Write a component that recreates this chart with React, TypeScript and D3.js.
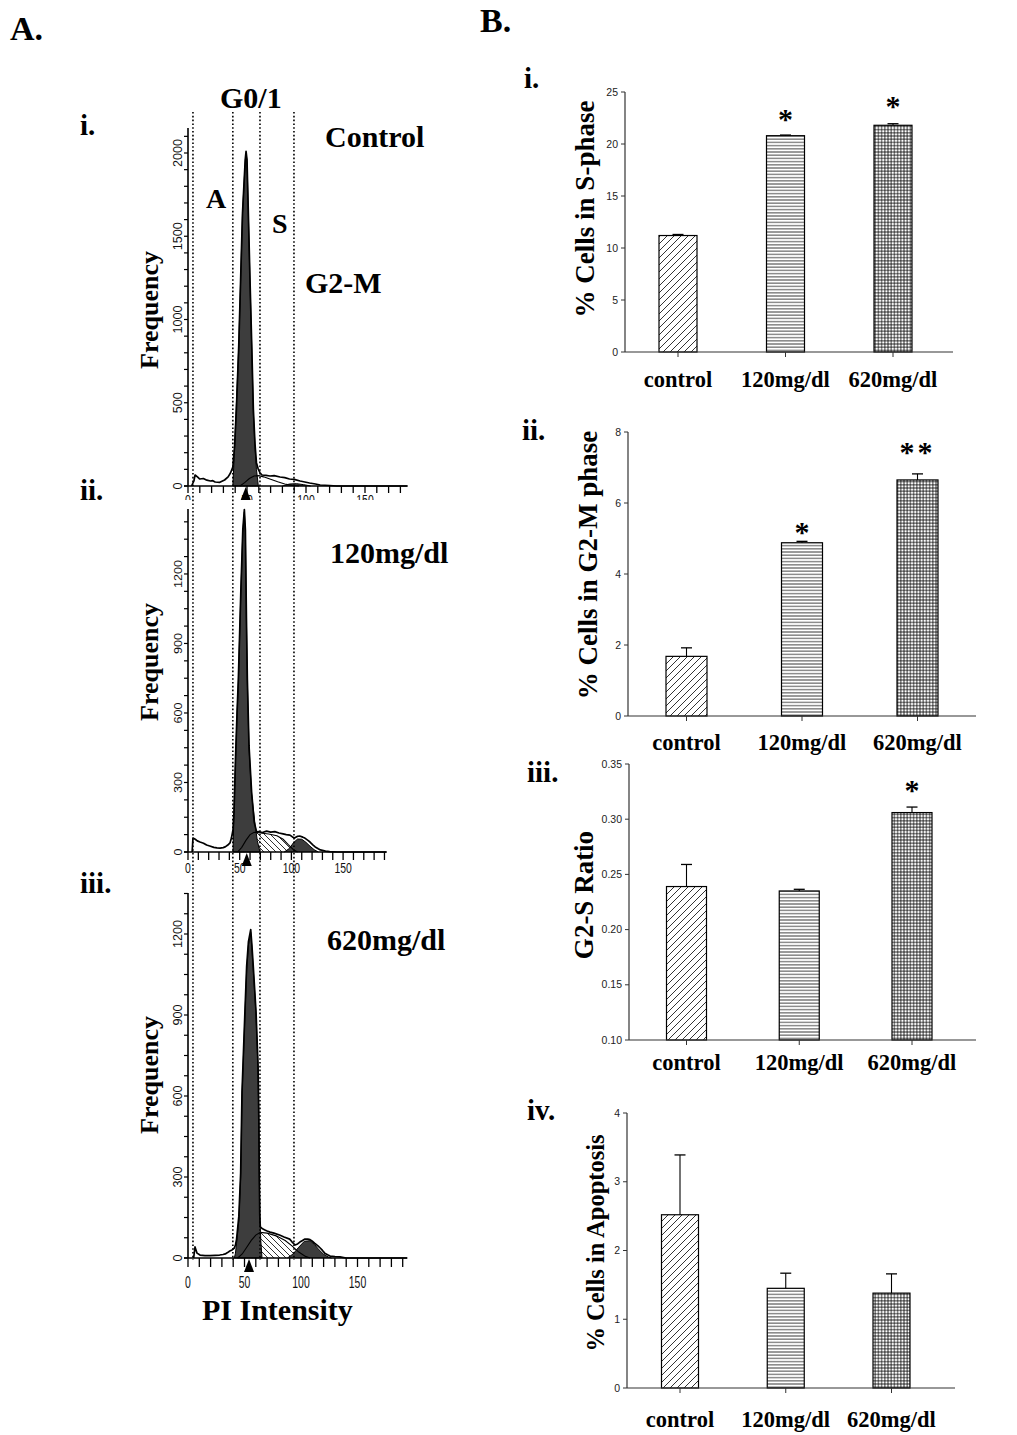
import React from "react";
import * as d3 from "d3";

// ---------------- Panel B data ----------------
const categories = ["control", "120mg/dl", "620mg/dl"];

const sPhaseMean = [11.2, 20.8, 21.8];
const sPhaseErr = [0.1, 0.06, 0.15];
const sPhaseStars = ["", "*", "*"];
const sPhaseStarLevel = [0, 22.9, 24.1];
const sPhaseTicks = [0, 5, 10, 15, 20, 25];

const g2mMean = [1.68, 4.88, 6.65];
const g2mErr = [0.24, 0.04, 0.17];
const g2mStars = ["", "*", "**"];
const g2mStarLevel = [0, 5.32, 7.58];
const g2mTicks = [0, 2, 4, 6, 8];

const ratioMean = [0.239, 0.235, 0.306];
const ratioErr = [0.02, 0.0015, 0.005];
const ratioStars = ["", "", "*"];
const ratioStarLevel = [0, 0, 0.331];
const ratioTicks = [0.1, 0.15, 0.2, 0.25, 0.3, 0.35];

const apoMean = [2.52, 1.45, 1.38];
const apoErr = [0.87, 0.22, 0.28];
const apoStars = ["", "", ""];
const apoStarLevel = [0, 0, 0];
const apoTicks = [0, 1, 2, 3, 4];

// ---------------- Panel A data (PI intensity, count) ----------------
const ctrlOutline = [[3,0],[5,30],[6,66],[8,55],[10,42],[13,45],[16,35],[19,30],[21,32],[23,24],[27,22],[31,36],[34,55],[36,78],[38,114],[39.5,240],[41,460],[43,840],[44.6,1240],[46.2,1640],[48.5,1960],[49.2,2010],[50,1960],[51.1,1650],[52.5,1250],[54,850],[55.4,460],[56.8,250],[58,140],[59.5,102],[61,80],[62.7,66],[66,64],[69.5,60],[73,62],[78,54],[82,50],[86,42],[90,40],[95,30],[99,24],[103,18],[108,12],[112,6],[120,3],[126,0],[186,0]];
const ctrlG01 = [[38,0],[39.5,234],[40.7,438],[43,834],[44.6,1237],[46.2,1640],[48.5,1950],[49.2,2000],[50,1950],[51.1,1640],[52.5,1237],[54,834],[55.4,438],[56.8,234],[58,100],[59.6,0]];
const ctrlS = [[44,0],[48,20],[52,45],[56,60],[60,62],[64,55],[70,40],[76,25],[82,12],[88,4],[94,0]];
const ctrlG2M = [[80,0],[86,12],[92,14],[98,8],[104,0]];

const low120Outline = [[4,0],[4.8,60],[7,55],[9,48],[11.6,43],[15,38],[18,30],[21,26],[25,20],[28,18],[31,17],[34,19],[36,22],[38.5,30],[40.6,39],[42,60],[43.5,95],[44.5,175],[46,410],[47.5,610],[48.7,745],[51,1110],[53,1390],[54.5,1478],[55.5,1390],[56.5,1010],[57.4,745],[59,460],[61.5,260],[64,130],[66.4,85],[68,88],[72,84],[76,90],[80,86],[84,88],[88,82],[92,78],[95,75],[98.6,73],[101,65],[103,60],[106,68],[108,69],[111,64],[113,60],[116,50],[118,43],[121,30],[123,22],[126,14],[128,9],[133,4],[137,2],[145,0],[192,0]];
const low120G01 = [[43.5,0],[44.5,168],[46,400],[47.5,600],[48.7,734],[51,1100],[53,1380],[54.5,1468],[55.5,1380],[56.5,1000],[57.4,734],[59,450],[61.5,250],[64.8,120],[67,50],[69.6,0]];
const low120S = [[48,0],[52,20],[56,50],[60,75],[64,85],[70,82],[78,78],[86,70],[92,55],[97,32],[102,10],[106,0]];
const low120G2M = [[93,0],[98,15],[102,40],[106,56],[110,55],[114,42],[118,25],[122,10],[126,0]];

const high620Outline = [[5,0],[6.2,41],[8,18],[10.6,11],[15,9],[19.5,9],[24,10],[28,11],[31,13],[33,15],[35,20],[37,26],[39,30],[41,37],[42,48],[43,70],[45,155],[46.6,315],[47.8,615],[50.4,915],[51.9,1080],[53.5,1172],[55.5,1216],[56.5,1162],[57.8,1078],[60.2,912],[62,712],[62.7,510],[63.1,310],[63.5,160],[64,115],[66,108],[68,104],[70,100],[72.6,96],[76,92],[81,85],[85,78],[90,70],[92,60],[94.7,48],[97,52],[99,59],[101,64],[103.5,70],[106,70],[108,68],[110,62],[112,55],[115,45],[117,37],[119,28],[121,18],[123.5,12],[125.7,7],[130,5],[134.5,4],[140,0],[194,0]];
const high620G01 = [[41,0],[42,18],[43,55],[45,140],[46.6,300],[47.8,600],[50.4,900],[51.9,1066],[53.5,1160],[55.5,1206],[56.5,1150],[57.8,1066],[60.2,900],[62,700],[62.7,500],[63.1,300],[63.7,140],[64.5,60],[65.5,0]];
const high620S = [[44,0],[48,15],[52,40],[56,65],[60,85],[64,95],[70,92],[78,82],[86,65],[92,45],[98,22],[104,6],[108,0]];
const high620G2M = [[88,0],[93,15],[98,40],[103,62],[108,64],[112,50],[116,30],[120,14],[124,4],[127,0]];

const peakArrows = [48.9, 56.8, 54];
const gateIntensities = [4.2, 38, 61, 89.8]; // in panel i intensity units
const histLabels = ["Control", "120mg/dl", "620mg/dl"];

const SERIF = '"Liberation Serif", "Times New Roman", Times, serif';
const SANS = '"Liberation Sans", Arial, Helvetica, sans-serif';

type Pt = number[];

const histPanels = [
  { outline: ctrlOutline, g01: ctrlG01, s: ctrlS, g2m: ctrlG2M, hatchS: false,
    x0: 188, ppu: 1.18, xMax: 186, y0: 486, ppc: 0.1665, yMax: 2150,
    yTicks: [0, 500, 1000, 1500, 2000], yMinor: 100,
    xLabFont: 15, xLabBase: 505, xTickLen: 7, clipY: 500, yLabFont: 13,
    label: histLabels[0], labelX: 325, labelY: 147, freqY: 310, roman: "i.", romanY: 135 },
  { outline: low120Outline, g01: low120G01, s: low120S, g2m: low120G2M, hatchS: true,
    x0: 188, ppu: 1.034, xMax: 192, y0: 852, ppc: 0.2317, yMax: 1480,
    yTicks: [0, 300, 600, 900, 1200], yMinor: 75,
    xLabFont: 14, xLabBase: 873, xTickLen: 8, clipY: 2000, yLabFont: 11,
    label: histLabels[1], labelX: 330, labelY: 563, freqY: 662, roman: "ii.", romanY: 500 },
  { outline: high620Outline, g01: high620G01, s: high620S, g2m: high620G2M, hatchS: true,
    x0: 188, ppu: 1.13, xMax: 194, y0: 1258, ppc: 0.27, yMax: 1352,
    yTicks: [0, 300, 600, 900, 1200], yMinor: 75,
    xLabFont: 16, xLabBase: 1288, xTickLen: 9, clipY: 2000, yLabFont: 13,
    label: histLabels[2], labelX: 327, labelY: 950, freqY: 1075, roman: "iii.", romanY: 893 },
];

function Histogram({ p, idx }: { p: any; idx: number }) {
  const x = d3.scaleLinear().domain([0, p.xMax]).range([p.x0, p.x0 + p.xMax * p.ppu]);
  const y = d3.scaleLinear().domain([0, p.yMax]).range([p.y0, p.y0 - p.yMax * p.ppc]);
  const area = d3.area<Pt>().x((d) => x(d[0])).y0(p.y0).y1((d) => y(d[1]));
  const line = d3.line<Pt>().x((d) => x(d[0])).y((d) => y(d[1]));
  const xTicks = d3.range(0, p.xMax + 0.01, 10);
  const xLabels = [0, 50, 100, 150];
  const yMinor = d3.range(0, p.yMax, p.yMinor);
  const ax = x(peakArrows[idx]);
  return (
    <g>
      <defs>
        <clipPath id={`hclip${idx}`}>
          <rect x={0} y={0} width={1017} height={p.clipY} />
        </clipPath>
      </defs>
      {p.hatchS ? (
        <path d={area(p.s) || ""} fill="url(#hatchS)" stroke="none" />
      ) : null}
      <path d={area(p.g01) || ""} fill="#3d3d3d" stroke="#000" strokeWidth={1} />
      <path d={area(p.g2m) || ""} fill="#3d3d3d" stroke="none" />
      <path d={line(p.s) || ""} fill="none" stroke="#000" strokeWidth={1.1} />
      <path d={line(p.g2m) || ""} fill="none" stroke="#000" strokeWidth={1} />
      <path d={line(p.outline) || ""} fill="none" stroke="#000" strokeWidth={1.7} strokeLinejoin="round" />
      {/* axes */}
      <line x1={p.x0 - 4} x2={x(p.xMax)} y1={p.y0} y2={p.y0} stroke="#000" strokeWidth={1.6} />
      <line x1={p.x0} x2={p.x0} y1={p.y0} y2={y(p.yMax)} stroke="#000" strokeWidth={1.6} />
      {xTicks.map((t) => (
        <line key={"xt" + t} x1={x(t)} x2={x(t)} y1={p.y0} y2={p.y0 + p.xTickLen} stroke="#000" strokeWidth={1.3} />
      ))}
      <g clipPath={`url(#hclip${idx})`}>
        {xLabels.map((t) => (
          <text key={"xl" + t} x={x(t)} y={p.xLabBase} fontFamily={SANS} fontSize={p.xLabFont}
            textAnchor="middle" textLength={String(t).length * 5.8} lengthAdjust="spacingAndGlyphs" fill="#111">
            {t}
          </text>
        ))}
      </g>
      {yMinor.map((t) => (
        <line key={"ym" + t} x1={p.x0 - 4} x2={p.x0} y1={y(t)} y2={y(t)} stroke="#000" strokeWidth={1.2} />
      ))}
      {p.yTicks.map((t: number) => (
        <text key={"yl" + t} transform={`translate(${p.x0 - 6},${y(t)}) rotate(-90)`} fontFamily={SANS}
          fontSize={p.yLabFont} textAnchor="middle" textLength={String(t).length * 7}
          lengthAdjust="spacingAndGlyphs" fill="#111">
          {t}
        </text>
      ))}
      {/* arrow under peak */}
      <path d={`M${ax},${p.y0 + 1} L${ax - 5},${p.y0 + 14} L${ax + 5},${p.y0 + 14} Z`} fill="#000" />
      {/* labels */}
      <text x={p.labelX} y={p.labelY} fontFamily={SERIF} fontWeight="bold" fontSize={30}>{p.label}</text>
      <text transform={`translate(158,${p.freqY}) rotate(-90)`} fontFamily={SERIF} fontWeight="bold"
        fontSize={26} textAnchor="middle">Frequency</text>
      <text x={80} y={p.romanY} fontFamily={SERIF} fontWeight="bold" fontSize={29}>{p.roman}</text>
    </g>
  );
}

const barPatterns = ["diagBar", "horizBar", "gridBar"];

const barPanels = [
  { mean: sPhaseMean, err: sPhaseErr, stars: sPhaseStars, starLevel: sPhaseStarLevel, ticks: sPhaseTicks,
    fmt: (v: number) => String(v), domain: [0, 25], x0: 625, x1: 953, yTop: 92, yBot: 352, c0: 678, c2: 893, bw: 38,
    title: "% Cells in S-phase", titleSize: 27, titleX: 594, titleY: 209, labelY: 387, roman: "i.", romanX: 524, romanY: 88 },
  { mean: g2mMean, err: g2mErr, stars: g2mStars, starLevel: g2mStarLevel, ticks: g2mTicks,
    fmt: (v: number) => String(v), domain: [0, 8], x0: 628, x1: 976, yTop: 432, yBot: 716, c0: 686.5, c2: 917.5, bw: 41,
    title: "% Cells in G2-M phase", titleSize: 27, titleX: 597, titleY: 565, labelY: 750, roman: "ii.", romanX: 522, romanY: 440 },
  { mean: ratioMean, err: ratioErr, stars: ratioStars, starLevel: ratioStarLevel, ticks: ratioTicks,
    fmt: (v: number) => v.toFixed(2), domain: [0.1, 0.35], x0: 629, x1: 976, yTop: 764, yBot: 1040, c0: 686.5, c2: 912, bw: 40,
    title: "G2-S Ratio", titleSize: 27, titleX: 593, titleY: 895, labelY: 1070, roman: "iii.", romanX: 527, romanY: 782 },
  { mean: apoMean, err: apoErr, stars: apoStars, starLevel: apoStarLevel, ticks: apoTicks,
    fmt: (v: number) => String(v), domain: [0, 4], x0: 627, x1: 955, yTop: 1113, yBot: 1388, c0: 680, c2: 891.5, bw: 37,
    title: "% Cells in Apoptosis", titleSize: 24.5, titleX: 604, titleY: 1243, labelY: 1427, roman: "iv.", romanX: 527, romanY: 1120 },
];

function BarPanel({ p }: { p: any }) {
  const y = d3.scaleLinear().domain(p.domain).range([p.yBot, p.yTop]);
  const x = d3.scalePoint<string>().domain(categories).range([p.c0, p.c2]);
  return (
    <g>
      {categories.map((c, i) => {
        const cx = x(c) as number;
        const top = y(p.mean[i]);
        const et = y(p.mean[i] + p.err[i]);
        return (
          <g key={c}>
            <rect x={cx - p.bw / 2} y={top} width={p.bw} height={p.yBot - top} fill="#fff" />
            <rect x={cx - p.bw / 2} y={top} width={p.bw} height={p.yBot - top} fill={`url(#${barPatterns[i]})`}
              stroke="#000" strokeWidth={1.2} />
            <line x1={cx} x2={cx} y1={top} y2={et} stroke="#000" strokeWidth={1.1} />
            <line x1={cx - 5.5} x2={cx + 5.5} y1={et} y2={et} stroke="#000" strokeWidth={1.3} />
            {p.stars[i] ? (
              <text x={cx} y={y(p.starLevel[i]) + 15} textAnchor="middle" fontFamily={SERIF} fontWeight="bold"
                fontSize={30} letterSpacing={p.stars[i].length > 1 ? 3 : 0}>
                {p.stars[i]}
              </text>
            ) : null}
            <line x1={cx} x2={cx} y1={p.yBot} y2={p.yBot + 5} stroke="#333" strokeWidth={1} />
            <text x={cx} y={p.labelY} textAnchor="middle" fontFamily={SERIF} fontWeight="bold" fontSize={22.5}>
              {c}
            </text>
          </g>
        );
      })}
      <line x1={p.x0} x2={p.x1} y1={p.yBot} y2={p.yBot} stroke="#333" strokeWidth={1.2} />
      <line x1={p.x0} x2={p.x0} y1={p.yBot} y2={p.yTop} stroke="#333" strokeWidth={1.2} />
      {p.ticks.map((t: number) => (
        <g key={t}>
          <line x1={p.x0 - 4} x2={p.x0} y1={y(t)} y2={y(t)} stroke="#333" strokeWidth={1} />
          <text x={p.x0 - 7} y={y(t)} dy="0.35em" textAnchor="end" fontFamily={SANS} fontSize={10.5} fill="#222">
            {p.fmt(t)}
          </text>
        </g>
      ))}
      <text transform={`translate(${p.titleX},${p.titleY}) rotate(-90)`} textAnchor="middle" fontFamily={SERIF}
        fontWeight="bold" fontSize={p.titleSize}>
        {p.title}
      </text>
      <text x={p.romanX} y={p.romanY} fontFamily={SERIF} fontWeight="bold" fontSize={29}>{p.roman}</text>
    </g>
  );
}

export default function App() {
  const gx = d3.scaleLinear().domain([0, 186]).range([188, 188 + 186 * 1.18]);
  return (
    <div style={{ position: "absolute", left: 0, top: 0 }}>
      <svg width={1017} height={1435} viewBox="0 0 1017 1435" style={{ display: "block", background: "#fff" }}>
        <defs>
          <pattern id="diagBar" width={7} height={7} patternUnits="userSpaceOnUse">
            <path d="M0,7 L7,0 M-1,1 L1,-1 M6,8 L8,6" stroke="#000" strokeWidth={0.8} />
          </pattern>
          <pattern id="horizBar" width={4} height={3.2} patternUnits="userSpaceOnUse">
            <path d="M0,1.6 H4" stroke="#000" strokeWidth={0.8} />
          </pattern>
          <pattern id="gridBar" width={3.2} height={3.2} patternUnits="userSpaceOnUse">
            <path d="M0,1.6 H3.2 M1.6,0 V3.2" stroke="#000" strokeWidth={0.75} />
          </pattern>
          <pattern id="hatchS" width={6} height={6} patternUnits="userSpaceOnUse">
            <rect width={6} height={6} fill="#fff" />
            <path d="M0,0 L6,6 M-1,5 L1,7 M5,-1 L7,1" stroke="#333" strokeWidth={1} />
          </pattern>
        </defs>
        <rect width={1017} height={1435} fill="#fff" />

        <text x={10} y={40} fontFamily={SERIF} fontWeight="bold" fontSize={34}>A.</text>
        <text x={480} y={32} fontFamily={SERIF} fontWeight="bold" fontSize={34}>B.</text>

        {histPanels.map((p, i) => (
          <Histogram key={i} p={p} idx={i} />
        ))}

        {gateIntensities.map((g) => (
          <line key={g} x1={gx(g)} x2={gx(g)} y1={112} y2={1260} stroke="#000" strokeWidth={1.6}
            strokeDasharray="1.6 2.2" />
        ))}

        <text x={220} y={108} fontFamily={SERIF} fontWeight="bold" fontSize={30}>G0/1</text>
        <text x={206} y={208} fontFamily={SERIF} fontWeight="bold" fontSize={28}>A</text>
        <text x={272} y={233} fontFamily={SERIF} fontWeight="bold" fontSize={28}>S</text>
        <text x={305} y={293} fontFamily={SERIF} fontWeight="bold" fontSize={30}>G2-M</text>
        <text x={202} y={1320} fontFamily={SERIF} fontWeight="bold" fontSize={30}>PI Intensity</text>

        {barPanels.map((p, i) => (
          <BarPanel key={i} p={p} />
        ))}
      </svg>
    </div>
  );
}
